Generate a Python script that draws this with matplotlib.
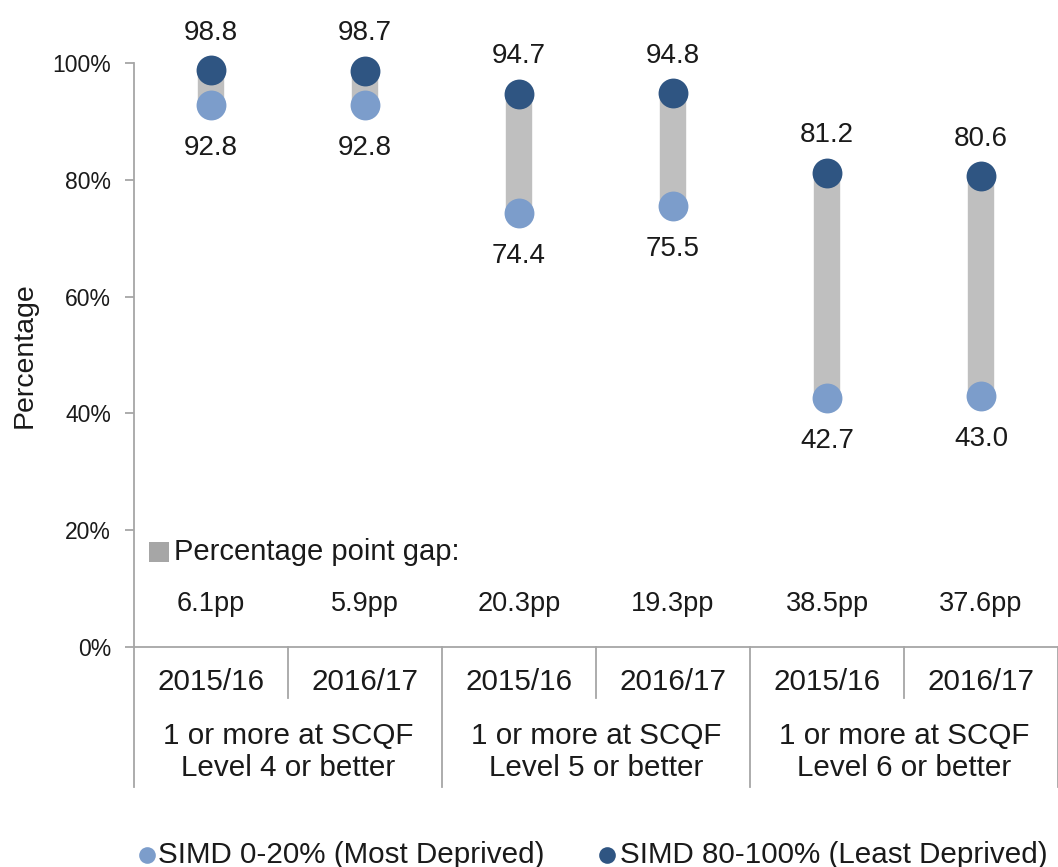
import matplotlib
matplotlib.use('Agg')
import matplotlib.pyplot as plt
from matplotlib.lines import Line2D

plt.rcParams['font.family'] = ['Liberation Sans', 'DejaVu Sans']

years = ['2015/16', '2016/17', '2015/16', '2016/17', '2015/16', '2016/17']
groups = ['1 or more at SCQF\nLevel 4 or better',
          '1 or more at SCQF\nLevel 5 or better',
          '1 or more at SCQF\nLevel 6 or better']
most_deprived = [92.8, 92.8, 74.4, 75.5, 42.7, 43.0]
least_deprived = [98.8, 98.7, 94.7, 94.8, 81.2, 80.6]
gap_labels = ['6.1pp', '5.9pp', '20.3pp', '19.3pp', '38.5pp', '37.6pp']

light = '#7C9DCB'
dark = '#2F5582'
bar_grey = '#BFBFBF'
txt = '#1A1A1A'
axis_grey = '#A6A6A6'

fig = plt.figure(figsize=(10.58, 8.67), dpi=100)
ax = fig.add_axes([134/1058, 220/867, 924/1058, 584/867])

x = list(range(len(years)))
ax.vlines(x, most_deprived, least_deprived, colors=bar_grey, linewidth=19, zorder=1)
ax.plot(x, most_deprived, 'o', color=light, markersize=21.5, markeredgewidth=0, zorder=3, clip_on=False)
ax.plot(x, least_deprived, 'o', color=dark, markersize=21.5, markeredgewidth=0, zorder=3, clip_on=False)

for i in x:
    ax.annotate(f'{least_deprived[i]:.1f}', (i, least_deprived[i]), xytext=(0, 27),
                textcoords='offset points', ha='center', va='center', fontsize=20, color=txt,
                annotation_clip=False)
    ax.annotate(f'{most_deprived[i]:.1f}', (i, most_deprived[i]), xytext=(0, -31),
                textcoords='offset points', ha='center', va='center', fontsize=20, color=txt,
                annotation_clip=False)
    ax.text(i, 7.3, gap_labels[i], ha='center', va='center', fontsize=19.5, color=txt)

# gap legend
ax.plot([-0.34], [16.3], 's', color='#A6A6A6', markersize=14, markeredgewidth=0)
ax.text(-0.24, 16.3, 'Percentage point gap:', ha='left', va='center', fontsize=21, color=txt)

ax.set_xlim(-0.5, 5.5)
ax.set_ylim(0, 100)
ax.set_yticks([0, 20, 40, 60, 80, 100])
ax.set_yticklabels(['0%', '20%', '40%', '60%', '80%', '100%'])
ax.tick_params(axis='y', labelsize=16.5, colors=axis_grey, labelcolor=txt, length=6.5, width=1.3, pad=10)
ax.set_xticks([])
for s in ['top', 'right']:
    ax.spines[s].set_visible(False)
for s in ['left', 'bottom']:
    ax.spines[s].set_color(axis_grey)
    ax.spines[s].set_linewidth(1.3)

# multi-level category axis
trans = ax.get_xaxis_transform()
for b in [0.5, 2.5, 4.5]:
    ax.plot([b, b], [0, -0.0873], color=axis_grey, lw=1.3, transform=trans, clip_on=False)
for b in [-0.5, 1.5, 3.5, 5.5]:
    ax.plot([b, b], [0, -0.2397], color=axis_grey, lw=1.3, transform=trans, clip_on=False)
for i in x:
    ax.text(i, -0.06, years[i], transform=trans, ha='center', va='center', fontsize=21.3, color=txt)
for g, label in enumerate(groups):
    ax.text(2 * g + 0.5, -0.18, label, transform=trans, ha='center', va='center',
            fontsize=21.3, color=txt, linespacing=1.17)

fig.text(25/1058, 1 - 355/867, 'Percentage', rotation=90, ha='center', va='center',
         fontsize=20.5, color=txt)

# bottom legend
fig.add_artist(Line2D([147/1058], [1 - 855/867], marker='o', color=light, markersize=12,
                      markeredgewidth=0, transform=fig.transFigure))
fig.text(158/1058, 1 - 855/867, 'SIMD 0-20% (Most Deprived)', ha='left', va='center',
         fontsize=21.3, color=txt)
fig.add_artist(Line2D([607/1058], [1 - 855/867], marker='o', color=dark, markersize=12,
                      markeredgewidth=0, transform=fig.transFigure))
fig.text(620/1058, 1 - 855/867, 'SIMD 80-100% (Least Deprived)', ha='left', va='center',
         fontsize=21.3, color=txt)

fig.savefig('out.png', dpi=100)
